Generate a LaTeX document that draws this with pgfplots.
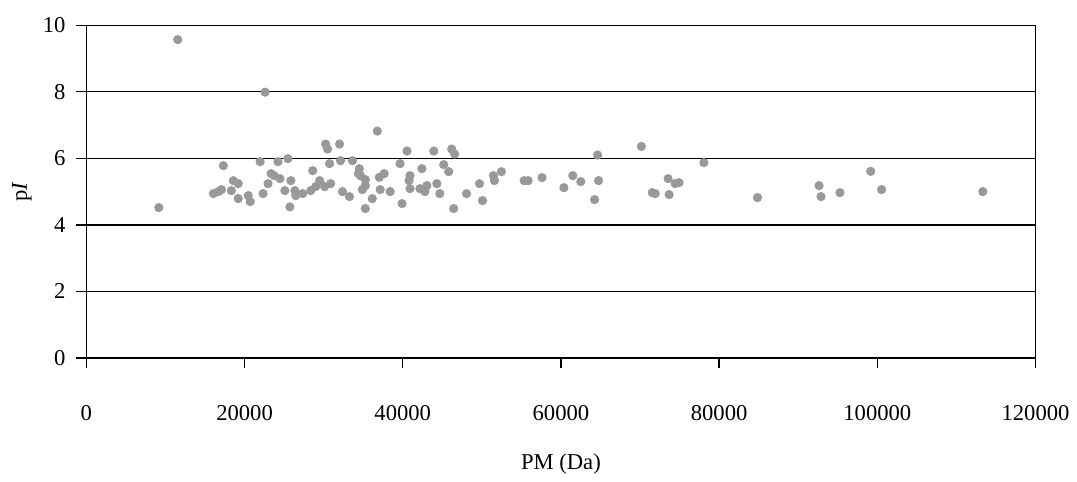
\documentclass[border=0pt]{standalone}
\usepackage{fontspec}
\setmainfont{Liberation Serif}
\usepackage{pgfplots}
\pgfplotsset{compat=1.18}

\begin{document}
\fontsize{11.4pt}{13pt}\selectfont
\begin{tikzpicture}
\begin{axis}[
  scale only axis,
  width=478pt, height=167.5pt,
  xmin=0, xmax=120000, ymin=0, ymax=10,
  xtick={0,20000,...,120000},
  ytick={0,2,...,10},
  scaled x ticks=false,
  /pgf/number format/fixed,
  /pgf/number format/assume math mode=true,
  /pgf/number format/1000 sep={},
  axis line style={black, line width=0.65pt},
  tick style={black, line width=0.65pt},
  major tick length=5pt,
  tick align=outside,
  tick pos=left,
  ymajorgrids,
  grid style={black, line width=0.65pt},
  xticklabel style={yshift=-15pt},
  yticklabel style={xshift=-1.5pt},
  xlabel={PM (Da)},
  ylabel={p\textit{I}},
  xlabel style={at={(axis description cs:0.5,0)}, anchor=center, yshift=-53.5pt},
  ylabel style={at={(axis description cs:0,0.5)}, anchor=center, yshift=32.5pt},
  clip=false,
]
\addplot[only marks, mark=*, mark size=2.1pt, color=black!40, mark options={draw=black!40, fill=black!40}] table {
x y
9160 4.52
11550 9.57
22590 7.99
16070 4.94
16690 5.00
17070 5.06
17320 5.78
18330 5.03
18580 5.33
19200 5.24
19200 4.79
20460 4.88
20710 4.70
21970 5.90
22340 4.94
22970 5.24
23350 5.54
23730 5.48
24220 5.90
24470 5.39
25100 5.03
25480 5.99
25730 4.54
25860 5.33
26360 5.03
26480 4.88
27360 4.94
28370 5.03
28620 5.63
29000 5.15
29500 5.33
30120 5.15
30250 6.43
30500 6.28
30750 5.84
30880 5.24
32010 6.43
32130 5.93
32380 5.00
33260 4.85
33640 5.93
34390 5.54
34510 5.69
34640 5.48
34890 5.06
35270 5.18
35270 5.36
35270 4.49
36150 4.79
36780 6.82
37030 5.43
37150 5.06
37650 5.54
38410 5.00
39660 5.84
39910 4.64
40540 6.22
40790 5.33
40920 5.48
40920 5.09
42170 5.09
42420 5.69
42800 5.00
43050 5.18
43930 6.22
44310 5.24
44690 4.94
45180 5.81
45810 5.60
46190 6.28
46570 6.13
46440 4.49
48070 4.94
49700 5.24
50080 4.73
51460 5.48
51590 5.33
52470 5.60
55350 5.33
55850 5.33
57610 5.42
60370 5.12
61500 5.48
62510 5.30
64640 6.10
64760 5.33
64260 4.76
70170 6.36
71550 4.97
71920 4.94
73550 5.39
74430 5.24
74930 5.27
73680 4.91
78070 5.87
84850 4.82
92630 5.18
92880 4.85
95270 4.97
99160 5.61
100540 5.06
113340 5.00
};
\end{axis}
\draw[black, line width=0.65pt] (current axis.north east) -- (current axis.south east);
\path ([xshift=-43.5pt, yshift=12.75pt]current axis.north west) rectangle ([xshift=17pt, yshift=-57.75pt]current axis.south east);
\end{tikzpicture}
\end{document}
